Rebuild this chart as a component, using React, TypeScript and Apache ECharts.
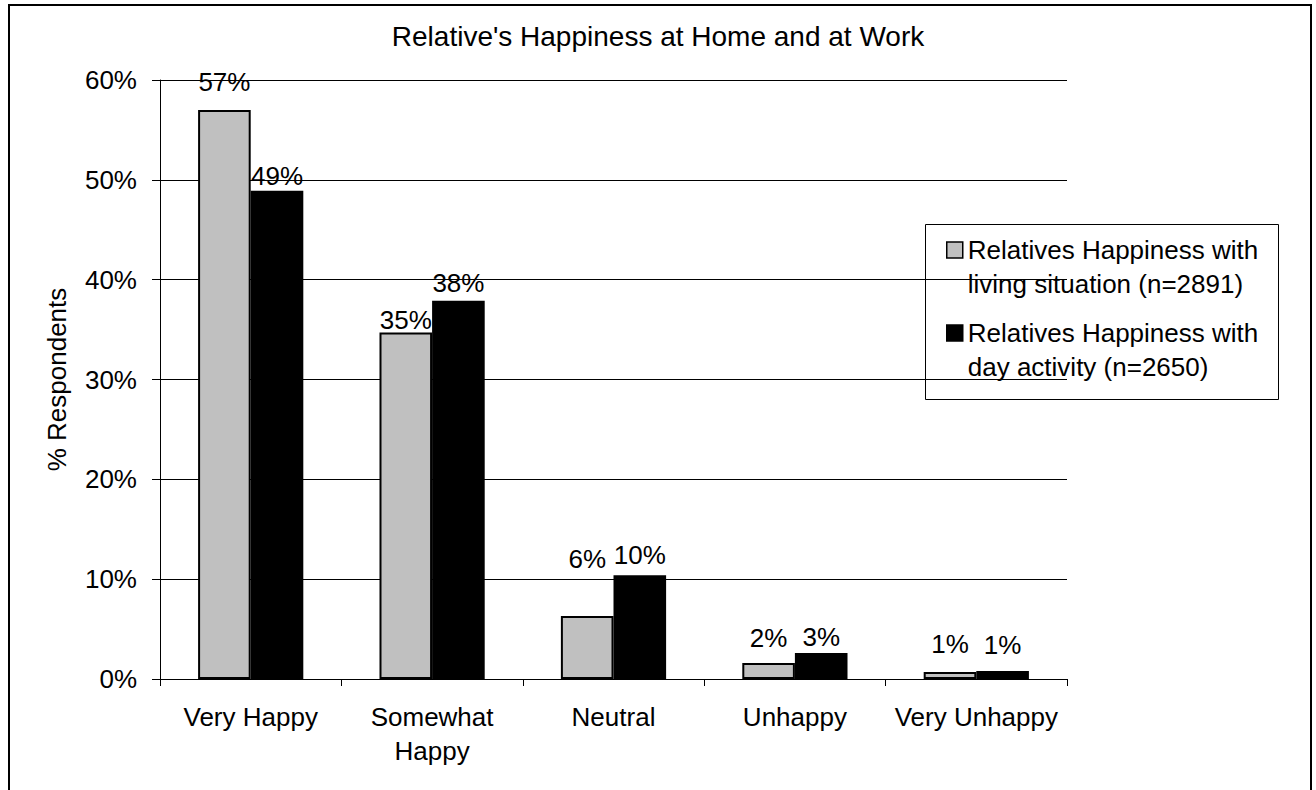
import React, { useEffect, useRef } from "react";
import * as echarts from "echarts";

const categories = ["Very Happy", "Somewhat\nHappy", "Neutral", "Unhappy", "Very Unhappy"];
const livingSituation = [57.0, 34.7, 6.3, 1.6, 0.7];
const dayActivity = [48.9, 37.9, 10.4, 2.6, 0.8];
const seriesNames = [
  "Relatives Happiness with\nliving situation (n=2891)",
  "Relatives Happiness with\nday activity (n=2650)",
];
const yTicks = { min: 0, max: 60, interval: 10 };
const titleText = "Relative's Happiness at Home and at Work";
const yAxisName = "% Respondents";

// gap (px) between each data label and its bar, as placed in the original chart
const livingLabelGap = [15, 0, 44, 12, 15];
const activityLabelGap = [2, 5, 7, 3, 13];

const FONT = "Liberation Sans, Arial, sans-serif";

export default function App() {
  const ref = useRef<HTMLDivElement>(null);
  useEffect(() => {
    document.body.style.margin = "0";
    const chart = echarts.init(ref.current!, undefined, { renderer: "svg" });
    const labelStyle = {
      show: true,
      position: "top" as const,
      distance: 8,
      color: "#000",
      fontSize: 26,
      fontFamily: FONT,
      formatter: (p: any) => Math.round(p.value) + "%",
    };
    const withGaps = (vals: number[], gaps: number[]) =>
      vals.map((v, i) => ({ value: v, label: { distance: gaps[i] } }));
    chart.setOption({
      animation: false,
      backgroundColor: "#fff",
      textStyle: { fontFamily: FONT },
      title: {
        text: titleText,
        left: "center",
        top: 17,
        textStyle: { fontSize: 28, fontWeight: "normal", color: "#000", fontFamily: FONT },
      },
      grid: { left: 160, right: 249, top: 80, bottom: 111 },
      legend: {
        orient: "vertical",
        left: 946,
        top: 199,
        padding: 0,
        itemWidth: 16,
        itemHeight: 16,
        itemGap: -19,
        icon: "rect",
        selectedMode: false,
        formatter: (name: string) => "\n" + name,
        textStyle: {
          fontSize: 26,
          lineHeight: 34,
          color: "#000",
          fontFamily: FONT,
        },
        data: seriesNames.map((n) => ({ name: n, itemStyle: { borderColor: "#000", borderWidth: 1.5 } })),
      },
      xAxis: {
        type: "category",
        data: categories,
        axisLine: { lineStyle: { color: "#000", width: 1 } },
        axisTick: { show: true, length: 7, lineStyle: { color: "#000" } },
        axisLabel: { color: "#000", fontSize: 26, margin: 21, lineHeight: 34, interval: 0, fontFamily: FONT },
      },
      yAxis: {
        type: "value",
        min: yTicks.min,
        max: yTicks.max,
        interval: yTicks.interval,
        name: yAxisName,
        nameLocation: "middle",
        nameRotate: 90,
        nameGap: 90,
        nameTextStyle: { fontSize: 26, color: "#000", fontFamily: FONT },
        axisLine: { show: true, lineStyle: { color: "#000", width: 1 } },
        axisTick: { show: true, length: 8, lineStyle: { color: "#000" } },
        axisLabel: { color: "#000", fontSize: 26, margin: 23, formatter: "{value}%", fontFamily: FONT },
        splitLine: { show: true, lineStyle: { color: "#000", width: 1 } },
      },
      series: [
        {
          name: seriesNames[0],
          type: "bar",
          data: withGaps(livingSituation, livingLabelGap),
          barGap: "0%",
          barCategoryGap: "42%",
          itemStyle: { color: "#C0C0C0", borderColor: "#000", borderWidth: 2 },
          label: labelStyle,
        },
        {
          name: seriesNames[1],
          type: "bar",
          data: withGaps(dayActivity, activityLabelGap),
          barGap: "0%",
          barCategoryGap: "42%",
          itemStyle: { color: "#000", borderColor: "#000", borderWidth: 2 },
          label: labelStyle,
        },
      ],
      graphic: [
        {
          type: "rect",
          shape: { x: 9, y: 5, width: 1302, height: 800 },
          style: { fill: "none", stroke: "#000", lineWidth: 2 },
          silent: true,
        },
        {
          type: "rect",
          shape: { x: 925.5, y: 224.5, width: 353, height: 175 },
          style: { fill: "none", stroke: "#000", lineWidth: 1 },
          silent: true,
        },
      ],
    });
    return () => chart.dispose();
  }, []);
  return <div ref={ref} style={{ width: 1316, height: 790 }} />;
}
